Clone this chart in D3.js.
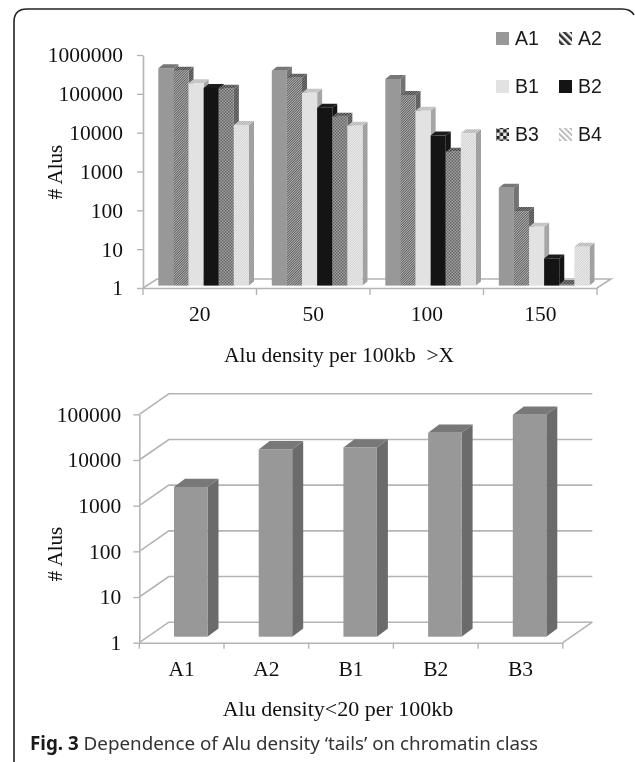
<!DOCTYPE html>
<html>
<head>
<meta charset="utf-8">
<script src="https://cdn.jsdelivr.net/npm/d3@7"></script>
<style>
  html, body { margin: 0; padding: 0; background: #fff; }
  svg { display: block; filter: blur(0.35px); }
  .serif { font-family: "Liberation Serif", serif; fill: #111; }
</style>
</head>
<body>
<svg id="chart" width="635" height="762"></svg>
<script>
// Top chart data
const categories = ["20", "50", "100", "150"];
const seriesNames = ["A1", "A2", "B1", "B2", "B3", "B4"];
const a1Values = [398000, 343000, 209000, 330];
const a2Values = [343000, 226000, 81000, 83];
const b1Values = [162000, 93000, 31700, 33];
const b2Values = [123000, 38000, 7300, 5];
const b3Values = [118000, 22400, 2800, 1.1];
const b4Values = [13700, 13100, 8400, 10];
const topTicks = [1, 10, 100, 1000, 10000, 100000, 1000000];

// Bottom chart data
const classes = ["A1", "A2", "B1", "B2", "B3"];
const classValues = [1900, 12600, 13900, 29000, 72000];
const bottomTicks = [1, 10, 100, 1000, 10000, 100000];

const axisColor = "#b4b4b4";
const svg = d3.select("#chart");
const defs = svg.append("defs");

// Fine hatches for the bars, coarse ones for the legend
function hatch(id, size, bg, fg, width, angle) {
    const p = defs.append("pattern").attr("id", id)
        .attr("width", size).attr("height", size)
        .attr("patternUnits", "userSpaceOnUse")
        .attr("patternTransform", `rotate(${angle})`);
    p.append("rect").attr("width", size).attr("height", size).attr("fill", bg);
    p.append("rect").attr("width", width).attr("height", size).attr("fill", fg);
}
function checker(id, size, bg, fg) {
    const p = defs.append("pattern").attr("id", id)
        .attr("width", size * 2).attr("height", size * 2)
        .attr("patternUnits", "userSpaceOnUse");
    p.append("rect").attr("width", size * 2).attr("height", size * 2).attr("fill", bg);
    p.append("rect").attr("width", size).attr("height", size).attr("fill", fg);
    p.append("rect").attr("x", size).attr("y", size).attr("width", size).attr("height", size).attr("fill", fg);
}
hatch("a2Face", 1.7, "#b4b4b4", "#5c5c5c", 0.85, 45);
hatch("a2Side", 1.7, "#7c7c7c", "#484848", 0.85, 45);
hatch("a2Top", 1.7, "#8c8c8c", "#3f3f3f", 0.85, 45);
checker("b3Face", 1.5, "#a0a0a0", "#666666");
checker("b3Side", 1.5, "#7c7c7c", "#4c4c4c");
checker("b3Top", 1.5, "#8a8a8a", "#3c3c3c");
hatch("b4Face", 1.7, "#ececec", "#d2d2d2", 0.85, 45);
hatch("b4Side", 1.7, "#ababab", "#979797", 0.85, 45);
hatch("b4Top", 1.7, "#dcdcdc", "#aaaaaa", 0.85, 45);
hatch("a2Key", 5, "#fff", "#333", 2.6, -45);
checker("b3Key", 3.4, "#e8e8e8", "#222");
hatch("b4Key", 4, "#fff", "#aaa", 1.5, -45);

const barStyles = {
    A1: { face: "#989898", side: "#737373", top: "#777777", key: "#989898" },
    A2: { face: "url(#a2Face)", side: "url(#a2Side)", top: "url(#a2Top)", key: "url(#a2Key)" },
    B1: { face: "#e2e2e2", side: "#a6a6a6", top: "#c6c6c6", key: "#e2e2e2" },
    B2: { face: "#141414", side: "#141414", top: "#1c1c1c", key: "#141414" },
    B3: { face: "url(#b3Face)", side: "url(#b3Side)", top: "url(#b3Top)", key: "url(#b3Key)" },
    B4: { face: "url(#b4Face)", side: "url(#b4Side)", top: "url(#b4Top)", key: "url(#b4Key)" }
};

// Frame round the figure, open at the bottom and right
svg.append("path")
    .attr("d", "M14 762 Q14 760 14 756 V22 Q14 9 27 9 H622 Q631 9 634 15")
    .attr("fill", "none").attr("stroke", "#222").attr("stroke-width", 1.6);

// One 3D column: face, then top, then side
function drawBar(g, x, yTop, w, base, dx, dy, style) {
    g.append("path").attr("fill", style.side)
        .attr("d", `M${x + w} ${yTop}l${dx} ${dy}V${base + dy}L${x + w} ${base}Z`);
    g.append("path").attr("fill", style.top)
        .attr("d", `M${x} ${yTop}l${dx} ${dy}h${w}l${-dx} ${-dy}Z`);
    g.append("rect").attr("x", x).attr("y", yTop)
        .attr("width", w).attr("height", Math.max(0, base - yTop)).attr("fill", style.face);
}

function styleAxis(g, fontSize) {
    g.select(".domain").attr("stroke", axisColor).attr("stroke-width", 1.6);
    g.selectAll(".tick line").attr("stroke", axisColor).attr("stroke-width", 1.4);
    g.selectAll(".tick text").attr("class", "serif").style("font-size", fontSize + "px");
}

// ---- top chart ----
const topLeft = 143, topRight = 597, topFloor = 288, topCeil = 55;
const topDx = 14, topDy = -9;
const yTop = d3.scaleLog().domain([1, 1000000]).range([topFloor, topCeil]);
const xTop = d3.scaleBand().domain(categories).range([topLeft, topRight]);
const xInner = d3.scaleBand().domain(seriesNames).range([15.3, 106]);

const topFloorG = svg.append("g").attr("fill", "none").attr("stroke", axisColor).attr("stroke-width", 1.6);
topFloorG.append("path").attr("d", `M${topLeft} ${topFloor}l${topDx} ${topDy}H${topRight + topDx}L${topRight} ${topFloor}`);

const yAxisTop = svg.append("g").attr("transform", `translate(${topLeft},0)`)
    .call(d3.axisLeft(yTop).tickValues(topTicks).tickFormat(d3.format("d")).tickSize(6).tickSizeOuter(0).tickPadding(14));
styleAxis(yAxisTop, 21.5);
const xAxisTop = svg.append("g").attr("transform", `translate(0,${topFloor})`)
    .call(d3.axisBottom(xTop).tickSize(0).tickPadding(18));
styleAxis(xAxisTop, 21.5);
svg.append("g").selectAll("line").data(categories.concat("end")).join("line")
    .attr("x1", d => d === "end" ? topRight : xTop(d)).attr("x2", d => d === "end" ? topRight : xTop(d))
    .attr("y1", topFloor).attr("y2", topFloor + 7)
    .attr("stroke", axisColor).attr("stroke-width", 1.4);

const topSeries = [a1Values, a2Values, b1Values, b2Values, b3Values, b4Values];
const topBars = svg.append("g");
const topBase = topFloor - 2.4;
categories.forEach((cat, c) => {
    seriesNames.forEach((name, s) => {
        const yv = yTop(topSeries[s][c]) - 2.4;
        drawBar(topBars, xTop(cat) + xInner(name), yv, xInner.bandwidth(), topBase, 5, -4, barStyles[name]);
    });
});

svg.append("text").attr("class", "serif").attr("x", 339).attr("y", 362)
    .attr("text-anchor", "middle").style("font-size", "21.5px").style("white-space", "pre")
    .text("Alu density per 100kb  >X");
svg.append("text").attr("class", "serif")
    .attr("transform", "translate(62,172) rotate(-90)")
    .attr("text-anchor", "middle").style("font-size", "21px").text("# Alus");

// Legend, two columns by three rows
const legend = svg.append("g");
const legendCol = d3.scalePoint().domain([0, 1]).range([496, 559]);
const legendRow = d3.scalePoint().domain([0, 1, 2]).range([32, 128]);
seriesNames.forEach((name, i) => {
    const lx = legendCol(i % 2), ly = legendRow(Math.floor(i / 2));
    legend.append("rect").attr("x", lx).attr("y", ly).attr("width", 13).attr("height", 13)
        .attr("fill", barStyles[name].key);
    legend.append("text").attr("x", lx + 19).attr("y", ly + 13)
        .style("font-family", "'Liberation Sans', sans-serif").style("font-size", "19.5px")
        .attr("fill", "#1a1a1a").text(name);
});

// ---- bottom chart ----
const botLeft = 139.3, botRight = 562.8, botFloor = 642.7, botCeil = 414.3;
const botDx = 29.5, botDy = -20.5;
const yBot = d3.scaleLog().domain([1, 100000]).range([botFloor, botCeil]);
const xBot = d3.scaleBand().domain(classes).range([botLeft, botRight]);

const walls = svg.append("g").attr("fill", "none").attr("stroke", axisColor).attr("stroke-width", 1.6);
walls.selectAll("path").data(bottomTicks).join("path")
    .attr("d", d => `M${botLeft} ${yBot(d)}l${botDx} ${botDy}H${botRight + botDx}`);
walls.append("path").attr("d", `M${botRight + botDx} ${botFloor + botDy}L${botRight} ${botFloor}`);

const yAxisBot = svg.append("g").attr("transform", `translate(${botLeft},0)`)
    .call(d3.axisLeft(yBot).tickValues(bottomTicks).tickFormat(d3.format("d")).tickSize(6).tickSizeOuter(0).tickPadding(12));
styleAxis(yAxisBot, 21.5);
const xAxisBot = svg.append("g").attr("transform", `translate(0,${botFloor})`)
    .call(d3.axisBottom(xBot).tickSize(0).tickPadding(18));
styleAxis(xAxisBot, 21.5);
svg.append("g").selectAll("line").data(classes.concat("end")).join("line")
    .attr("x1", d => d === "end" ? botRight : xBot(d)).attr("x2", d => d === "end" ? botRight : xBot(d))
    .attr("y1", botFloor).attr("y2", botFloor + 6)
    .attr("stroke", axisColor).attr("stroke-width", 1.4);

const botStyle = { face: "#989898", side: "#6b6b6b", top: "#787878" };
const botBars = svg.append("g");
classes.forEach((name, i) => {
    const yv = yBot(classValues[i]) - 6;
    drawBar(botBars, xBot(name) + 34.7, yv, 33.5, botFloor - 6, 11, -8.3, botStyle);
});

svg.append("text").attr("class", "serif")
    .attr("transform", "translate(62,554) rotate(-90)")
    .attr("text-anchor", "middle").style("font-size", "21px").text("# Alus");
svg.append("text").attr("class", "serif").attr("x", 338).attr("y", 716)
    .attr("text-anchor", "middle").style("font-size", "22px").text("Alu density<20 per 100kb");

// Caption
const caption = svg.append("text").attr("x", 30).attr("y", 750)
    .style("font-family", "'Noto Sans', sans-serif").style("font-size", "18.8px");
caption.append("tspan").attr("font-weight", "bold").attr("fill", "#1a1a1a").text("Fig. 3");
caption.append("tspan").attr("fill", "#333").text(" Dependence of Alu density \u2018tails\u2019 on chromatin class");
</script>
</body>
</html>
